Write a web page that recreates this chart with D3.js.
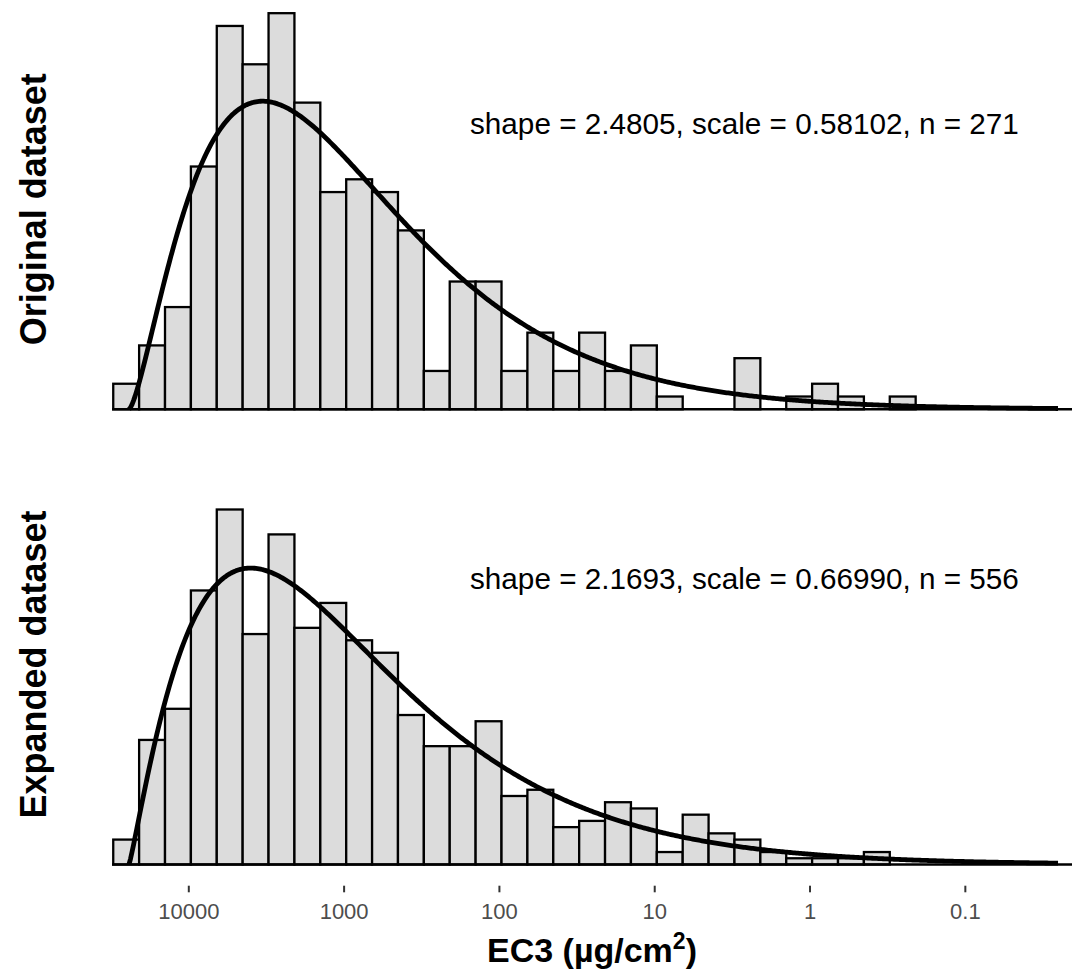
<!DOCTYPE html>
<html>
<head>
<meta charset="utf-8">
<script src="https://cdn.jsdelivr.net/npm/d3@7"></script>
<style>
  body { margin: 0; background: #fff; }
  svg { display: block; font-family: "Liberation Sans", Arial, sans-serif; }
</style>
</head>
<body>
<svg id="chart" width="1081" height="975"></svg>
<script>
// histogram bins, on log10(EC3); first bin starts at the left, bins go to lower EC3
var binStartLog = 4.4833;
var binWidth = 1 / 6;
var originalCounts = [2, 5, 8, 19, 30, 27, 31, 24, 17, 18, 17, 14, 3, 10, 10, 3, 6, 3, 6, 3, 5, 1, 0, 0, 4, 0, 1, 2, 1, 0, 1];
var expandedCounts = [4, 20, 25, 44, 57, 37, 53, 38, 42, 36, 34, 24, 19, 19, 23, 11, 12, 6, 7, 10, 9, 2, 8, 5, 4, 2, 1, 1, 1, 2, 0];

// gamma fits (shape, scale, n) per panel
var panelNames = ["Original dataset", "Expanded dataset"];
var shapes = [2.4805, 2.1693];
var scales = [0.58102, 0.66990];
var ns = [271, 556];
var gammaOriginLog = 4.382;   // t = 0 of the fitted gamma
var curveEndLog = -1.60;

var tickLogs = [4, 3, 2, 1, 0, -1];
var tickLabels = ["10000", "1000", "100", "10", "1", "0.1"];

var svg = d3.select("#chart");

var left = 112, right = 1072;
var panelH = 404;
var baselines = [409.3, 864.5];

var x = d3.scaleLinear().domain([4.4913, -1.690]).range([left, right]);

function lnGamma(z) {
	var g = 7;
	var c = [0.99999999999980993, 676.5203681218851, -1259.1392167224028, 771.32342877765313,
		-176.61502916214059, 12.507343278686905, -0.13857109526572012, 9.9843695780195716e-6, 1.5056327351493116e-7];
	z -= 1;
	var a = c[0];
	var t = z + g + 0.5;
	for (var i = 1; i < g + 2; i++) a += c[i] / (z + i);
	return 0.5 * Math.log(2 * Math.PI) + (z + 0.5) * Math.log(t) - t + Math.log(a);
}

function gammaPdf(t, k, theta) {
	if (t <= 0) return 0;
	return Math.exp((k - 1) * Math.log(t) - t / theta - lnGamma(k) - k * Math.log(theta));
}

var countsList = [originalCounts, expandedCounts];

panelNames.forEach(function(name, p) {
	var y = d3.scaleLinear().domain([0, 0.7]).range([baselines[p], baselines[p] - panelH]);
	var g = svg.append("g");
	var n = ns[p];

	var bins = countsList[p].map(function(c, i) {
		return { x0: binStartLog - i * binWidth, x1: binStartLog - (i + 1) * binWidth, count: c };
	}).filter(function(d) { return d.count > 0; });

	g.selectAll(".bar")
		.data(bins)
		.enter()
		.append("rect")
		.attr("class", "bar")
		.attr("x", d => x(d.x0))
		.attr("width", d => x(d.x1) - x(d.x0))
		.attr("y", d => y(d.count / (n * binWidth)))
		.attr("height", d => y(0) - y(d.count / (n * binWidth)))
		.attr("fill", "#dcdcdc")
		.attr("stroke", "#000")
		.attr("stroke-width", 2.3);

	// baseline
	g.append("line")
		.attr("x1", left).attr("x2", right)
		.attr("y1", y(0)).attr("y2", y(0))
		.attr("stroke", "#000")
		.attr("stroke-width", 2.5);

	// fitted gamma density
	var tEnd = gammaOriginLog - curveEndLog;
	var pts = d3.range(0, 601).map(function(i) {
		var t = tEnd * i / 600;
		return [gammaOriginLog - t, gammaPdf(t, shapes[p], scales[p])];
	});
	g.append("path")
		.datum(pts)
		.attr("d", d3.line().x(d => x(d[0])).y(d => y(d[1])))
		.attr("fill", "none")
		.attr("stroke", "#000")
		.attr("stroke-width", 4.8)
		.attr("stroke-linejoin", "round");

	g.append("text")
		.attr("x", 470)
		.attr("y", baselines[p] - 275.5)
		.attr("font-size", 29.7)
		.attr("fill", "#000")
		.text("shape = " + shapes[p].toFixed(4) + ", scale = " + scales[p].toFixed(5) + ", n = " + n);

	g.append("text")
		.attr("transform", "translate(45.5," + (baselines[p] - 200) + ") rotate(-90)")
		.attr("text-anchor", "middle")
		.attr("font-size", 36)
		.attr("font-weight", "bold")
		.text(name);
});

// x axis under the lower panel
var axis = svg.append("g")
	.attr("transform", "translate(0,885.7)")
	.call(d3.axisBottom(x).tickValues(tickLogs).tickFormat((d, i) => tickLabels[i]).tickSize(6.6).tickPadding(11));
axis.select(".domain").remove();
axis.selectAll(".tick line").attr("stroke", "#333").attr("stroke-width", 2);
axis.selectAll(".tick text")
	.attr("fill", "#4d4d4d")
	.style("font-size", "22px")
	.style("font-family", "'Liberation Sans', Arial, sans-serif");

var title = svg.append("text")
	.attr("x", (left + right) / 2)
	.attr("y", 962)
	.attr("text-anchor", "middle")
	.attr("font-size", 34)
	.attr("font-weight", "bold");
title.append("tspan").text("EC3 (µg/cm");
title.append("tspan").attr("dy", -13).attr("font-size", 23).text("2");
title.append("tspan").attr("dy", 13).text(")");
</script>
</body>
</html>
